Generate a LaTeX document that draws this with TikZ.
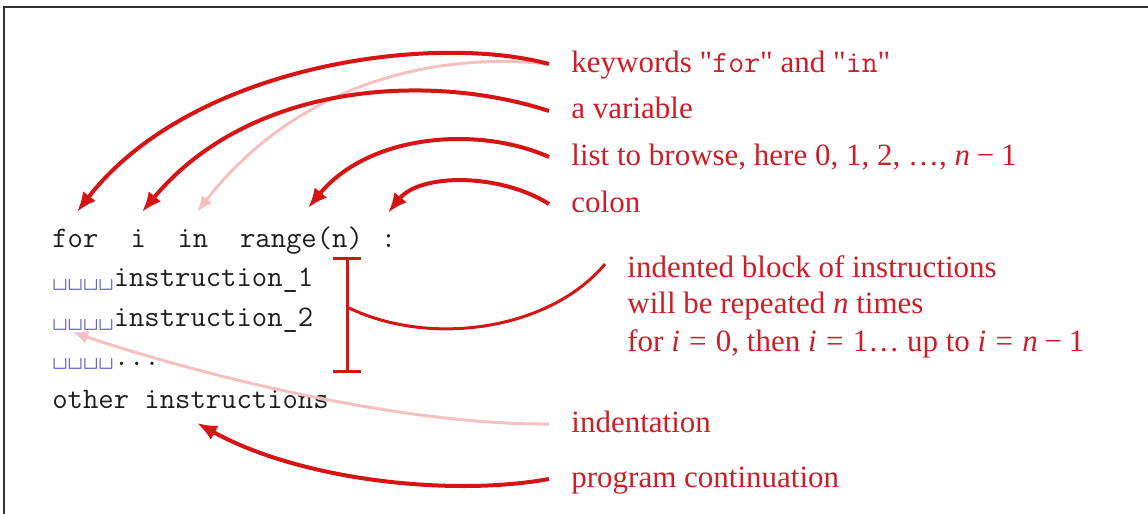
\documentclass[tikz,border=0pt]{standalone}
\usepackage{fontspec}
\setmainfont{Liberation Serif}
\usetikzlibrary{arrows.meta}
\definecolor{lblred}{RGB}{205,30,40}
\definecolor{arrred}{RGB}{215,20,20}
\definecolor{arrpink}{RGB}{246,192,192}
\definecolor{vsblue}{RGB}{100,100,210}
\definecolor{codegray}{RGB}{30,30,30}
\definecolor{framegray}{RGB}{50,50,50}
\newcommand{\vsp}{\textcolor{vsblue}{\textvisiblespace\textvisiblespace\textvisiblespace\textvisiblespace}}
\newcommand{\eqs}{\hspace{0.3em}=\hspace{0.3em}}
\newcommand{\mns}{\hspace{0.22em}−\hspace{0.22em}}
\begin{document}
\begin{tikzpicture}[x=0.5pt,y=-0.5pt,
  code/.style={inner sep=0pt, anchor=base west, font=\fontsize{14.9}{16}\selectfont\ttfamily, text=codegray},
  lbl/.style={inner sep=0pt, anchor=base west, font=\fontsize{15.5}{18}\selectfont, text=lblred, text height=11pt, text depth=3pt},
  callout/.style={draw=arrred, line width=2pt, -{Latex[length=10pt,width=8pt]}},
  faint/.style={draw=arrpink, line width=1.5pt, -{Latex[length=8pt,width=6.5pt]}},
  brace/.style={draw=arrred, line width=1.5pt},
]
\useasboundingbox (0,0) rectangle (1148,514);
% frame
\draw[framegray, line width=1.1pt] (4,514) -- (4,7) -- (1148,7);

% code
\node[code] (kfor) at (52,247) {for};
\node[code] (vi) at (130.2,247) {i};
\node[code] (kin) at (177.1,247) {in};
\node[code] (rng) at (239.7,247) {range(n)};
\node[code] (col) at (380.5,247) {:};
\node[code] (ins1) at (52,286) {\vsp instruction\_1};
\node[code] (ins2) at (52,326) {\vsp instruction\_2};
\node[code] (ins3) at (52,365) {\vsp ...};
\node[code] (other) at (52,408) {other instructions};

% labels
\node[lbl] (lkw) at (571,72) {keywords \textquotedbl\texttt{for}\textquotedbl{} and \textquotedbl\texttt{in}\textquotedbl};
\node[lbl] (lvar) at (571,119) {a variable};
\node[lbl] (llist) at (571,165) {list to browse, here 0, 1, 2, \dots, \textit{n}\mns 1};
\node[lbl] (lcol) at (571,212) {colon};
\node[lbl] (blk1) at (627,277) {indented block of instructions};
\node[lbl] (blk2) at (627,313) {will be repeated \textit{n} times};
\node[lbl] (blk3) at (627,351) {for \textit{i}\eqs 0, then \textit{i}\eqs 1\dots{} up to \textit{i}\eqs\textit{n}\mns 1};
\node[lbl] (lind) at (571,432) {indentation};
\node[lbl] (lcont) at (571,487) {program continuation};

% arrow tips
\coordinate (tfor) at (77,212);
\coordinate (tin) at (197,212);
\coordinate (ti) at (142,212);
\coordinate (trng) at (308,208);
\coordinate (tcol) at (388,213);
\coordinate (tind) at (72,332);
\coordinate (tcont) at (197,423);

% bracket over the indented block
\coordinate (btop) at (347,257);
\coordinate (bbot) at (347,373);
\coordinate (bmid) at (347,307);
\coordinate (bend) at (605,264);
\draw[brace, {Bar[width=14pt]}-{Bar[width=14pt]}] (btop) -- (bbot);
\draw[brace] (bmid) .. controls (430,348) and (550,330) .. (bend);

% callouts
\draw[faint] ([xshift=-11pt]lkw.west) .. controls (440,52) and (300,80) .. (tin);
\draw[callout] ([xshift=-11pt]lkw.west) .. controls (430,32) and (190,66) .. (tfor);
\draw[callout] ([xshift=-11pt]lvar.west) .. controls (430,72) and (250,82) .. (ti);
\draw[callout] ([xshift=-11pt]llist.west) .. controls (480,126) and (370,133) .. (trng);
\draw[callout] ([xshift=-11pt]lcol.west) .. controls (500,173) and (420,173) .. (tcol);
\draw[faint] ([xshift=-11pt]lind.west) .. controls (400,425) and (200,375) .. (tind);
\draw[callout] ([xshift=-11pt]lcont.west) .. controls (450,497) and (300,480) .. (tcont);
\end{tikzpicture}
\end{document}
